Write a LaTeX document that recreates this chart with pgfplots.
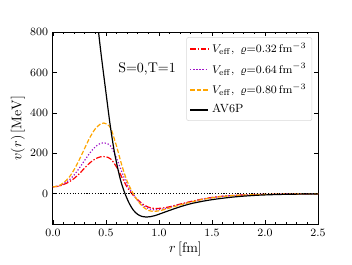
\documentclass[border=0pt]{standalone}
\usepackage{pgfplots}
\pgfplotsset{compat=1.18}
\definecolor{vpurple}{RGB}{160,20,200}
\definecolor{vorange}{RGB}{255,165,0}
\begin{document}
\begin{tikzpicture}
\begin{axis}[
  scale only axis,
  width=189.7pt, height=137.5pt,
  xmin=0, xmax=2.5, ymin=-150, ymax=800,
  xtick={0,0.5,...,2.5},
  minor x tick num=4,
  ytick={0,200,400,600,800},
  tick align=inside,
  xtick pos=both, ytick pos=both,
  major tick length=3pt, minor tick length=1.6pt,
  axis line style={line width=0.7pt},
  every tick/.style={black, line width=0.5pt},
  xticklabel style={/pgf/number format/fixed,/pgf/number format/fixed zerofill,/pgf/number format/precision=1},
  tick label style={font=\footnotesize},
  label style={font=\normalsize},
  xlabel={$r\,[\mathrm{fm}]$},
  ylabel={$v(r)\,[\mathrm{MeV}]$},
  xlabel style={yshift=3pt},
  ylabel style={yshift=-3pt},
  clip=true,
  legend style={at={(0.978,0.973)}, anchor=north east, font=\fontsize{8.5}{10}\selectfont, draw=gray!30, rounded corners=1.5pt, fill=white, row sep=2.2pt, inner sep=2pt},
  legend cell align=left,
  legend image code/.code={\draw[#1, line width=1.2pt] (0cm,0cm) -- (0.46cm,0cm);},
  every axis plot/.append style={line width=0.85pt},
]
\addplot[red, dash pattern=on 4pt off 1.3pt on 1pt off 1.3pt, smooth] coordinates {
(0,35)(0.05,37)(0.1,46)(0.15,58)(0.2,76)(0.25,100)(0.3,128)(0.35,154)(0.4,173)(0.45,183)(0.48,184)(0.52,180)(0.55,170)(0.6,132)(0.65,82)(0.7,32)(0.75,-3)(0.8,-30)(0.85,-52)(0.9,-66)(0.95,-72)(1.0,-72)(1.05,-69)(1.1,-64)(1.2,-51)(1.3,-38)(1.4,-27)(1.5,-18)(1.6,-12)(1.7,-8)(1.8,-5.5)(1.9,-3.5)(2.0,-2.5)(2.2,-1)(2.5,0)
};
\addlegendentry{$V_{\rm eff},\ \varrho{=}0.32\,\mathrm{fm}^{-3}$}
\addplot[vpurple, dash pattern=on 0.9pt off 1.3pt, smooth] coordinates {
(0,35)(0.05,38)(0.1,50)(0.15,67)(0.2,93)(0.25,128)(0.3,166)(0.35,203)(0.4,233)(0.45,250)(0.48,252)(0.52,246)(0.55,232)(0.6,175)(0.65,108)(0.7,45)(0.75,2)(0.8,-33)(0.85,-58)(0.9,-73)(0.95,-79)(1.0,-78)(1.05,-74)(1.1,-67)(1.2,-53)(1.3,-40)(1.4,-28)(1.5,-19)(1.6,-12.5)(1.7,-8.5)(1.8,-5.5)(1.9,-3.5)(2.0,-2.5)(2.2,-1)(2.5,0)
};
\addlegendentry{$V_{\rm eff},\ \varrho{=}0.64\,\mathrm{fm}^{-3}$}
\addplot[color=vorange, draw=vorange, dash pattern=on 3.2pt off 1.4pt, smooth] coordinates {
(0,35)(0.05,38)(0.1,55)(0.15,80)(0.2,120)(0.25,170)(0.3,226)(0.35,280)(0.4,322)(0.45,346)(0.48,350)(0.52,340)(0.55,318)(0.6,235)(0.65,140)(0.7,62)(0.75,8)(0.8,-35)(0.85,-65)(0.9,-82)(0.95,-87)(1.0,-84)(1.05,-78)(1.1,-70)(1.2,-55)(1.3,-41)(1.4,-29)(1.5,-20)(1.6,-13)(1.7,-9)(1.8,-6)(1.9,-4)(2.0,-2.5)(2.2,-1)(2.5,0)
};
\addlegendentry{$V_{\rm eff},\ \varrho{=}0.80\,\mathrm{fm}^{-3}$}
\addplot[black, smooth] coordinates {
(0.40,960)(0.43,800)(0.46,665)(0.5,500)(0.54,338)(0.58,205)(0.62,105)(0.65,45)(0.68,0)(0.72,-48)(0.76,-82)(0.8,-102)(0.84,-112)(0.88,-115)(0.92,-113)(0.96,-108)(1.0,-101)(1.1,-82)(1.2,-64)(1.3,-49)(1.4,-38)(1.5,-29)(1.6,-22)(1.7,-16)(1.8,-11.5)(1.9,-8)(2.0,-5.5)(2.2,-2.5)(2.5,-0.5)
};
\addlegendentry{AV6P}
\addplot[black, dash pattern=on 0.8pt off 1.2pt, line width=0.7pt, forget plot] coordinates {(0,0)(2.5,0)};
\node[anchor=west, font=\normalsize] at (axis cs:0.57,617) {S=0,T=1};
\end{axis}
\pgfresetboundingbox
\path (-37.9pt,-28.6pt) rectangle (214pt,160.4pt);
\end{tikzpicture}
\end{document}
